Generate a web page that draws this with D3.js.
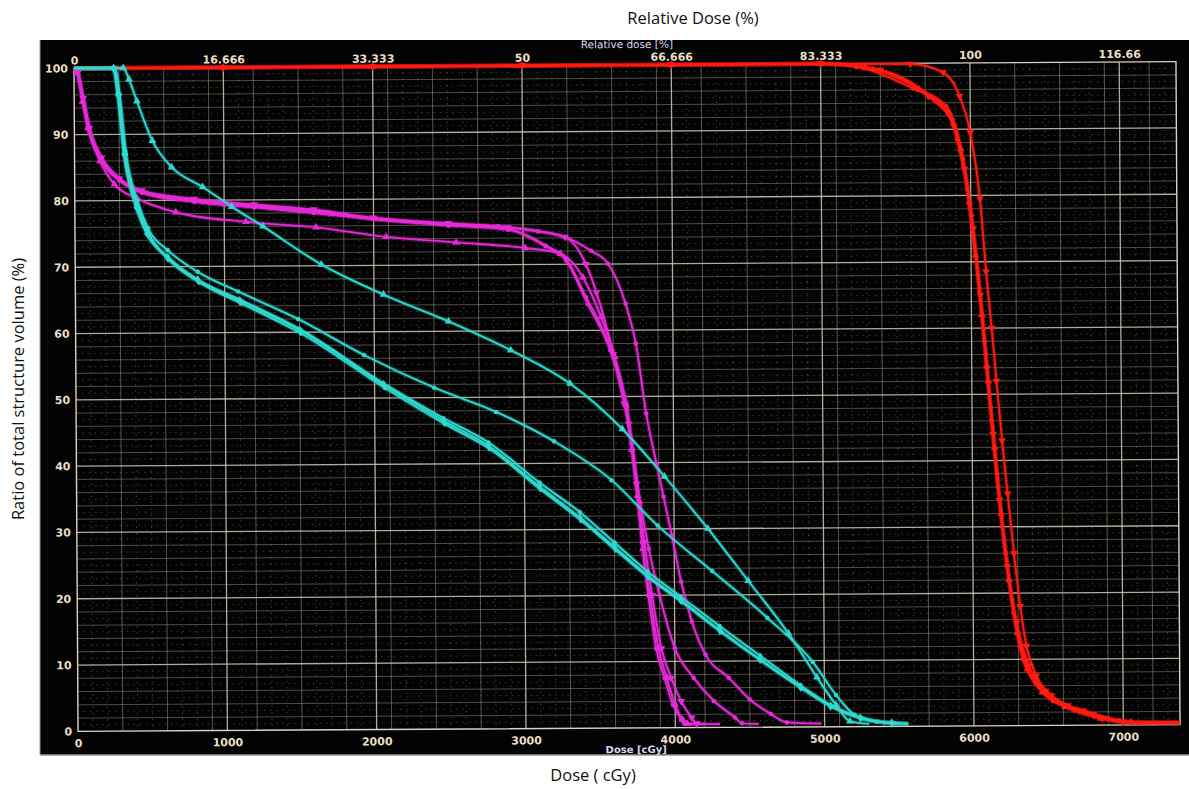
<!DOCTYPE html>
<html><head><meta charset="utf-8">
<script src="https://cdn.jsdelivr.net/npm/d3@7"></script>
<style>body{margin:0;background:#fff}svg{display:block}</style>
</head><body>
<svg id="c" width="1189" height="789"></svg>
<script>
// ---- data ----
const doseTicks = [0,1000,2000,3000,4000,5000,6000,7000];
const doseTickLabels = ["0","1000","2000","3000","4000","5000","6000","7000"];
const relTickLabels = ["0","16.666","33.333","50","66.666","83.333","100","116.66"];
const volTicks = [0,10,20,30,40,50,60,70,80,90,100];

// red (target) curves: [dose cGy, volume %]
const red1 = [[0,100],[1000,100],[2000,100],[3000,100],[4000,100],[5000,100],[5600,99.9],[5820,98.6],[5930,95],[6000,89.5],[6062,79.5],[6100,68.5],[6135,60],[6165,52],[6200,43],[6235,35],[6275,26],[6315,18],[6355,12],[6420,7.5],[6520,4.5],[6670,2.4],[6860,1],[7000,0.4],[7380,0.3]];
const red2 = [[0,100],[1000,100],[2000,100],[3000,100],[4000,100],[5000,100],[5240,99.5],[5620,96.2],[5840,93.5],[5910,88.5],[5975,81],[6015,73.5],[6055,66],[6095,56],[6130,46],[6170,36],[6220,26],[6270,17],[6330,10],[6410,6.7],[6530,3.7],[6740,2.2],[6970,0.7],[7100,0.3],[7380,0.3]];
const red3 = [[0,100],[1000,100],[2000,100],[3000,100],[4000,100],[5000,100],[5300,99.4],[5660,96],[5860,92.5],[5935,87],[5990,79],[6030,71],[6070,62],[6110,52],[6150,42],[6190,32],[6240,22],[6295,14],[6360,8.5],[6460,5],[6610,2.8],[6850,1],[7050,0.4],[7380,0.3]];
const red4 = [[0,100],[1000,100],[2000,100],[3000,100],[4000,100],[5000,100],[5350,99.2],[5700,95.5],[5880,91.5],[5950,85.5],[6005,77],[6045,68],[6085,58],[6125,48],[6165,38],[6210,28],[6260,19],[6320,12],[6400,7.5],[6500,4.6],[6650,2.6],[6900,1],[7050,0.4],[7380,0.3]];
const red5 = [[0,100],[1000,100],[2000,100],[3000,100],[4000,100],[5000,100],[5400,99],[5720,95],[5890,90.5],[5960,84],[6015,75],[6060,65],[6100,54],[6140,44],[6180,34],[6230,24],[6290,15.5],[6370,9],[6480,5.2],[6630,3],[6800,1.6],[7000,0.5],[7380,0.3]];

// magenta curves
const mag1 = [[0,100],[25,99.3],[60,95],[100,90.5],[180,86],[300,83],[450,81.3],[800,80],[1200,79.1],[1600,78.3],[2000,77],[2500,76.2],[2833,75.8],[3100,75],[3282,74.1],[3456,72],[3570,70],[3684,64],[3751,58],[3818,47.4],[3885,39.8],[3930,34.9],[3985,29],[4045,22],[4115,16],[4205,11],[4360,7.5],[4500,4.2],[4640,2],[4748,0.7],[4980,0.5]];
const mag2 = [[0,100],[25,99.3],[60,95.5],[100,91],[180,86.5],[300,83.3],[450,81.5],[800,80.2],[1200,79.3],[1600,78.5],[2000,77.2],[2500,76.3],[2900,75.6],[3282,74.1],[3420,70],[3490,65.7],[3600,56.4],[3670,48.9],[3700,45.9],[3750,36.8],[3800,28],[3850,20],[3910,12],[3975,7.5],[4040,4],[4110,1.5],[4145,0.6],[4300,0.5]];
const mag3 = [[0,100],[25,99.3],[60,95.5],[100,91],[180,86.5],[300,83.3],[450,81.2],[800,79.8],[1200,78.9],[1600,78],[2000,77],[2500,76],[2900,75.3],[3150,72.8],[3290,70.7],[3420,65],[3560,58.5],[3650,51.9],[3690,48.4],[3720,42.9],[3750,36.8],[3785,28],[3825,20],[3875,12],[3930,7.5],[3985,3.5],[4040,1.2],[4060,0.6],[4150,0.5]];
const mag4 = [[0,100],[25,99.3],[60,95.5],[100,91],[180,86.5],[300,83.3],[450,81.2],[800,79.8],[1200,78.9],[1600,78],[2000,77],[2500,76],[2900,75.3],[3150,72.8],[3290,70.5],[3430,64],[3580,57],[3670,50],[3725,42],[3775,34],[3830,27],[3900,20],[4000,12],[4125,7.5],[4260,4],[4400,1.5],[4447,0.6],[4560,0.5]];
const mag5 = [[0,100],[20,99.3],[55,95],[90,91],[170,86],[265,82.5],[420,80.3],[676,78.2],[1145,76.7],[1614,75.8],[2083,74.3],[2552,73.4],[3014,72.5],[3250,71.6],[3400,68],[3520,62],[3610,56],[3680,49],[3720,42],[3755,35],[3790,27],[3835,20],[3890,12],[3945,7.5],[4000,3.5],[4050,1.2],[4080,0.6],[4200,0.5]];

// cyan curves
const cy1 = [[0,100],[330,100],[368,98.3],[420,95],[522,89],[650,85],[857,82],[1050,79],[1259,76],[1648,70.2],[2063,65.6],[2498,61.5],[2913,57.1],[3309,52],[3657,45.1],[3938,37.9],[4226,30],[4494,22.1],[4762,14.1],[4950,7.5],[5077,3.3],[5170,0.8],[5300,0.4]];
const cy2 = [[0,100],[270,100],[300,96],[340,87.5],[420,80],[490,75.8],[620,72.5],[820,69.2],[1090,66.2],[1490,62],[1930,56.5],[2400,51.5],[2813,47.8],[3200,43.3],[3583,37.4],[3890,30.5],[4253,23.6],[4620,16.5],[4923,9.8],[5077,4.8],[5200,1.8],[5350,0.7],[5500,0.4]];
const cy3 = [[0,100],[260,100],[290,96],[330,87],[410,79],[480,75],[620,71.5],[820,68],[1100,65],[1500,60.5],[2060,52.2],[2460,46.9],[2760,43.2],[3100,37.1],[3370,32.6],[3600,28],[3820,23.6],[4040,19.8],[4300,15.3],[4570,10.8],[4840,6.3],[5040,3.3],[5240,1.4],[5450,0.5],[5560,0.4]];
const cy4 = [[0,100],[265,100],[295,96],[335,87],[415,79],[485,75],[620,71.3],[820,68],[1100,64.8],[1500,60.3],[2060,52],[2460,46.5],[2760,42.7],[3100,36.5],[3370,31.8],[3600,27.3],[3820,23],[4040,19.3],[4300,14.7],[4570,10.2],[4840,6],[5040,3.1],[5240,1.3],[5450,0.5],[5560,0.4]];
const cy5 = [[0,100],[275,100],[305,96],[345,87],[425,79],[495,75],[630,71],[830,67.6],[1110,64.4],[1510,59.8],[2070,51.5],[2470,46],[2770,42.2],[3110,36],[3380,31.3],[3610,26.8],[3830,22.6],[4050,18.9],[4310,14.4],[4580,10],[4850,5.8],[5050,3],[5250,1.2],[5460,0.5],[5560,0.4]];

const series = [
  {name:"PTV a", data:red1, color:"#ff1a12", sym:"triangleDown"},
  {name:"PTV b", data:red2, color:"#ff1a12", sym:"circle"},
  {name:"PTV c", data:red3, color:"#ff1a12", sym:"triangle"},
  {name:"PTV d", data:red4, color:"#ff1a12", sym:"circle"},
  {name:"PTV e", data:red5, color:"#ff1a12", sym:"triangleDown"},
  {name:"OAR m1", data:mag1, color:"#e62ad8", sym:"circle"},
  {name:"OAR m2", data:mag2, color:"#e62ad8", sym:"triangleDown"},
  {name:"OAR m3", data:mag3, color:"#e62ad8", sym:"circle"},
  {name:"OAR m4", data:mag4, color:"#e62ad8", sym:"circle"},
  {name:"OAR m5", data:mag5, color:"#e62ad8", sym:"triangle"},
  {name:"OAR c1", data:cy1, color:"#2fd9cf", sym:"triangle"},
  {name:"OAR c2", data:cy2, color:"#2fd9cf", sym:"circle"},
  {name:"OAR c3", data:cy3, color:"#2fd9cf", sym:"circle"},
  {name:"OAR c4", data:cy4, color:"#2fd9cf", sym:"diamond"},
  {name:"OAR c5", data:cy5, color:"#2fd9cf", sym:"circle"}
];

// ---- drawing ----
const svg = d3.select("#c");
const W = 1189, H = 789;
svg.append("rect").attr("x",0).attr("y",0).attr("width",W).attr("height",H).attr("fill","#fff");
svg.append("rect").attr("x",40).attr("y",40).attr("width",1149).attr("height",715).attr("fill","#030303");
svg.append("line").attr("x1",40).attr("x2",1189).attr("y1",755).attr("y2",755).attr("stroke","#9a9a9a").attr("stroke-width",1.5);
svg.append("line").attr("x1",40).attr("x2",40).attr("y1",40).attr("y2",755).attr("stroke","#9a9a9a").attr("stroke-width",1);

const x = d3.scaleLinear().domain([0,7380]).range([76,1178]);
const y = d3.scaleLinear().domain([0,100]).range([728,65]);

const g = svg.append("g").attr("transform","rotate(-0.35,627,396)");

// grid
const gridC = "#cfcab8";
const minorX = d3.range(100,7380,100).filter(v=>v%1000!==0);
const minorY = d3.range(1,100,1).filter(v=>v%10!==0);
g.append("g").selectAll("line").data(minorX).join("line")
  .attr("x1",d=>x(d)).attr("x2",d=>x(d)).attr("y1",y(100)).attr("y2",y(0))
  .attr("stroke",gridC).attr("stroke-width",0.8)
  .attr("stroke-dasharray",d=> d%300===0?null:"1.2,5")
  .attr("opacity",d=> d%300===0?0.5:0.45);
g.append("g").selectAll("line").data(minorY).join("line")
  .attr("x1",x(0)).attr("x2",x(7380)).attr("y1",d=>y(d)).attr("y2",d=>y(d))
  .attr("stroke",gridC).attr("stroke-width",0.8)
  .attr("stroke-dasharray",d=> d%2===0?null:"1.2,5")
  .attr("opacity",d=> d%2===0?0.45:0.4);
g.append("g").selectAll("line").data(doseTicks.slice(1)).join("line")
  .attr("x1",d=>x(d)).attr("x2",d=>x(d)).attr("y1",y(100)).attr("y2",y(0))
  .attr("stroke",gridC).attr("stroke-width",1.3).attr("opacity",0.85);
g.append("g").selectAll("line").data(volTicks.slice(1,-1)).join("line")
  .attr("x1",x(0)).attr("x2",x(7380)).attr("y1",d=>y(d)).attr("y2",d=>y(d))
  .attr("stroke",gridC).attr("stroke-width",1.3).attr("opacity",0.85);
// frame
g.append("rect").attr("x",x(0)).attr("y",y(100)).attr("width",x(7380)-x(0)).attr("height",y(0)-y(100))
  .attr("fill","none").attr("stroke","#d8d3c2").attr("stroke-width",1.4);

// axes with D3 axis generators
const tickCol = "#eadfc4";
const axB = g.append("g").attr("transform",`translate(0,${y(0)})`)
  .call(d3.axisBottom(x).tickValues(doseTicks).tickFormat((d,i)=>doseTickLabels[i]).tickSize(0).tickPadding(8));
const axT = g.append("g").attr("transform",`translate(0,${y(100)})`)
  .call(d3.axisTop(x).tickValues(doseTicks).tickFormat((d,i)=>relTickLabels[i]).tickSize(0).tickPadding(4));
const axL = g.append("g").attr("transform",`translate(${x(0)},0)`)
  .call(d3.axisLeft(y).tickValues(volTicks).tickSize(0).tickPadding(6));
[axB,axT,axL].forEach(a=>{
  a.select(".domain").remove();
  a.selectAll("text").attr("fill",tickCol).attr("font-family","DejaVu Sans").attr("font-weight","bold").attr("font-size",11);
});

g.append("text").attr("x",629).attr("y",48).attr("text-anchor","middle")
  .attr("fill","#ddd6ee").attr("font-family","DejaVu Sans").attr("font-size",10.5).text("Relative dose [%]");
g.append("text").attr("x",634).attr("y",753).attr("text-anchor","middle")
  .attr("fill","#ddd6ee").attr("font-family","DejaVu Sans").attr("font-weight","bold").attr("font-size",10).text("Dose [cGy]");

// curves
const line = d3.line().x(d=>x(d[0])).y(d=>y(d[1])).curve(d3.curveMonotoneX);
const symMap = {circle:d3.symbolCircle, triangle:d3.symbolTriangle, triangleDown:d3.symbolTriangle, diamond:d3.symbolDiamond};
const curves = g.append("g");
series.forEach(s=>{
  curves.append("path").attr("d",line(s.data)).attr("fill","none")
    .attr("stroke",s.color).attr("stroke-width",4.5).attr("opacity",0.25).attr("stroke-linejoin","round");
});
series.forEach(s=>{
  curves.append("path").attr("d",line(s.data)).attr("fill","none")
    .attr("stroke",s.color).attr("stroke-width",1.9).attr("stroke-linejoin","round");
  const pts = s.data.slice(1,-1);
  curves.append("g").selectAll("path").data(pts).join("path")
    .attr("transform",d=>`translate(${x(d[0])},${y(d[1])})` + (s.sym==="triangleDown"?" rotate(180)":""))
    .attr("d",d3.symbol().type(symMap[s.sym]).size(s.sym==="circle"?16:26))
    .attr("fill",s.color);
});

// outer labels
svg.append("text").attr("x",693).attr("y",24).attr("text-anchor","middle")
  .attr("font-family","Open Sans").attr("font-size",16.5).attr("fill","#111").text("Relative Dose (%)");
svg.append("text").attr("x",593).attr("y",781).attr("text-anchor","middle")
  .attr("font-family","Open Sans").attr("font-size",16.5).attr("fill","#111").text("Dose ( cGy)");
svg.append("text").attr("transform","translate(24,389) rotate(-90)").attr("text-anchor","middle")
  .attr("font-family","Open Sans").attr("font-size",16.5).attr("fill","#111").text("Ratio of total structure volume (%)");
</script>
</body></html>
